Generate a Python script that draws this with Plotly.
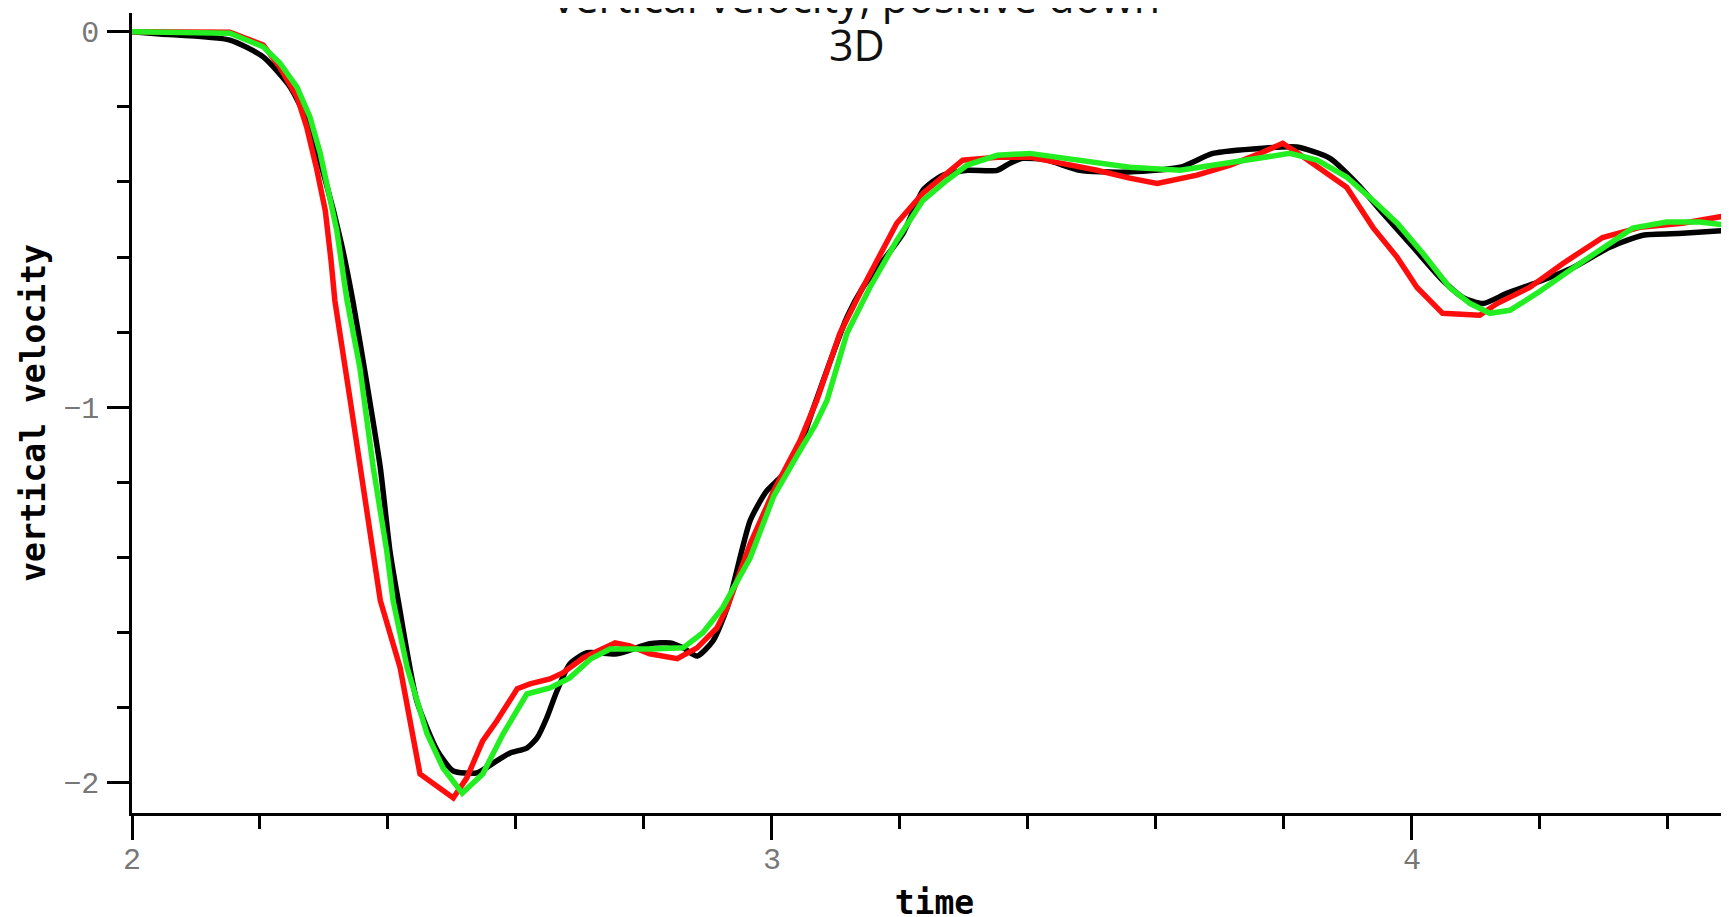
import plotly.graph_objects as go

# ---- data ----
black_t = [2.000, 2.044, 2.153, 2.205, 2.247, 2.273, 2.302, 2.327, 2.345, 2.367, 2.388, 2.403, 2.416,
           2.445, 2.477, 2.502, 2.539, 2.570, 2.591, 2.617, 2.633, 2.648, 2.664, 2.684, 2.711, 2.758,
           2.809, 2.841, 2.861, 2.883, 2.908, 2.930, 2.966, 2.991, 3.017, 3.044, 3.069, 3.117, 3.142,
           3.205, 3.236, 3.267, 3.305, 3.352, 3.372, 3.392, 3.430, 3.481, 3.548, 3.638, 3.689, 3.767,
           3.820, 3.872, 3.914, 3.955, 4.002, 4.048, 4.080, 4.111, 4.148, 4.195, 4.252, 4.309, 4.361,
           4.423, 4.495]
black_v = [0.000, -0.006, -0.022, -0.067, -0.147, -0.235, -0.395, -0.563, -0.716, -0.937, -1.161, -1.382,
           -1.515, -1.782, -1.915, -1.969, -1.974, -1.942, -1.921, -1.908, -1.881, -1.828, -1.756, -1.684,
           -1.654, -1.657, -1.630, -1.628, -1.641, -1.663, -1.622, -1.534, -1.302, -1.225, -1.180, -1.102,
           -0.982, -0.761, -0.681, -0.537, -0.422, -0.382, -0.369, -0.369, -0.350, -0.337, -0.342, -0.369,
           -0.374, -0.361, -0.324, -0.310, -0.307, -0.337, -0.404, -0.484, -0.574, -0.662, -0.708, -0.724,
           -0.697, -0.668, -0.628, -0.574, -0.542, -0.537, -0.529]

red_t = [2.000, 2.106, 2.153, 2.205, 2.231, 2.258, 2.273, 2.288, 2.302, 2.311, 2.317, 2.341, 2.364,
         2.388, 2.419, 2.450, 2.502, 2.523, 2.548, 2.570, 2.602, 2.622, 2.653, 2.673, 2.705, 2.755,
         2.778, 2.809, 2.852, 2.883, 2.914, 2.930, 2.966, 3.003, 3.044, 3.070, 3.106, 3.142, 3.195,
         3.236, 3.298, 3.352, 3.403, 3.445, 3.508, 3.559, 3.602, 3.664, 3.716, 3.767, 3.798, 3.820,
         3.852, 3.898, 3.939, 3.977, 4.008, 4.048, 4.106, 4.133, 4.184, 4.236, 4.298, 4.356, 4.423,
         4.461, 4.495]
red_v = [0.000, 0.000, -0.001, -0.035, -0.094, -0.174, -0.254, -0.361, -0.476, -0.609, -0.716, -0.982,
         -1.249, -1.515, -1.694, -1.977, -2.041, -1.988, -1.889, -1.836, -1.750, -1.737, -1.724, -1.708,
         -1.668, -1.628, -1.636, -1.657, -1.670, -1.641, -1.588, -1.534, -1.364, -1.222, -1.089, -0.982,
         -0.804, -0.681, -0.510, -0.430, -0.342, -0.334, -0.334, -0.348, -0.369, -0.390, -0.404, -0.382,
         -0.355, -0.321, -0.297, -0.321, -0.361, -0.414, -0.521, -0.601, -0.681, -0.750, -0.755, -0.724,
         -0.681, -0.617, -0.548, -0.521, -0.510, -0.500, -0.489]

green_t = [2.000, 2.106, 2.153, 2.205, 2.231, 2.258, 2.278, 2.294, 2.306, 2.320, 2.336, 2.356, 2.377,
           2.398, 2.408, 2.430, 2.461, 2.486, 2.516, 2.548, 2.580, 2.617, 2.653, 2.684, 2.717, 2.747,
           2.809, 2.861, 2.892, 2.923, 2.966, 3.003, 3.044, 3.067, 3.086, 3.117, 3.153, 3.195, 3.236,
           3.273, 3.305, 3.352, 3.403, 3.445, 3.508, 3.559, 3.638, 3.716, 3.809, 3.852, 3.898, 3.934,
           3.977, 4.017, 4.059, 4.091, 4.122, 4.153, 4.195, 4.247, 4.294, 4.345, 4.398, 4.450, 4.495]
green_v = [0.000, -0.001, -0.004, -0.040, -0.083, -0.148, -0.227, -0.323, -0.414, -0.529, -0.716, -0.894,
           -1.161, -1.382, -1.515, -1.694, -1.870, -1.961, -2.028, -1.977, -1.870, -1.764, -1.748, -1.721,
           -1.670, -1.644, -1.644, -1.641, -1.601, -1.534, -1.401, -1.236, -1.115, -1.049, -0.982, -0.804,
           -0.681, -0.556, -0.449, -0.396, -0.355, -0.329, -0.324, -0.334, -0.348, -0.361, -0.369, -0.350,
           -0.324, -0.342, -0.387, -0.441, -0.510, -0.590, -0.681, -0.724, -0.750, -0.742, -0.697, -0.635,
           -0.582, -0.523, -0.507, -0.507, -0.516]

title_line1 = "vertical velocity, positive down"
title_line2 = "3D"
x_label = "<b>time</b>"
y_label = "<b>vertical velocity</b>"

fig = go.Figure()
fig.add_trace(go.Scatter(x=black_t, y=black_v, mode="lines",
                         line=dict(color="#000000", width=5.5, shape="spline", smoothing=0.6)))
fig.add_trace(go.Scatter(x=red_t, y=red_v, mode="lines",
                         line=dict(color="#ff0d0d", width=5.5)))
fig.add_trace(go.Scatter(x=green_t, y=green_v, mode="lines",
                         line=dict(color="#22ee22", width=5.5)))

tickfont = dict(family="Liberation Mono", size=30, color="#777777")
labfont = dict(family="DejaVu Sans Mono", size=33, color="#000000")

# the page body has an 8px margin, so margins are reduced by 8px
fig.update_layout(
    width=1729, height=917,
    margin=dict(l=124, r=0, t=5, b=112),
    paper_bgcolor="white", plot_bgcolor="white",
    showlegend=False,
    xaxis=dict(range=[2, 4.508], dtick=1, tick0=2, showgrid=False, zeroline=False,
               automargin=False,
               showline=True, linecolor="black", linewidth=2.5,
               ticks="outside", ticklen=24, tickwidth=2.5, tickcolor="black",
               tickfont=tickfont, ticklabelstandoff=-7,
               minor=dict(dtick=0.2, tick0=2, ticks="outside", ticklen=13, tickwidth=2.5,
                          tickcolor="black", showgrid=False),
               title=dict(text=x_label, font=labfont, standoff=15)),
    yaxis=dict(range=[-2.081, 0.05], dtick=1, tick0=0, showgrid=False, zeroline=False,
               automargin=False,
               showline=True, linecolor="black", linewidth=2.5,
               ticks="outside", ticklen=22, tickwidth=2.5, tickcolor="black",
               tickfont=tickfont, ticklabelstandoff=2,
               minor=dict(dtick=0.2, tick0=0, ticks="outside", ticklen=12, tickwidth=2.5,
                          tickcolor="black", showgrid=False),
               title=dict(text=y_label, font=labfont, standoff=8)),
)

tfont = dict(family="Open Sans", size=43, color="#111111")
fig.add_annotation(text=title_line1, xref="paper", yref="paper", x=0.4515, y=1.021,
                   xanchor="center", yanchor="middle", showarrow=False, font=tfont)
fig.add_annotation(text=title_line2, xref="paper", yref="paper", x=0.4515, y=0.961,
                   xanchor="center", yanchor="middle", showarrow=False, font=tfont)

fig.write_html("out.html")
